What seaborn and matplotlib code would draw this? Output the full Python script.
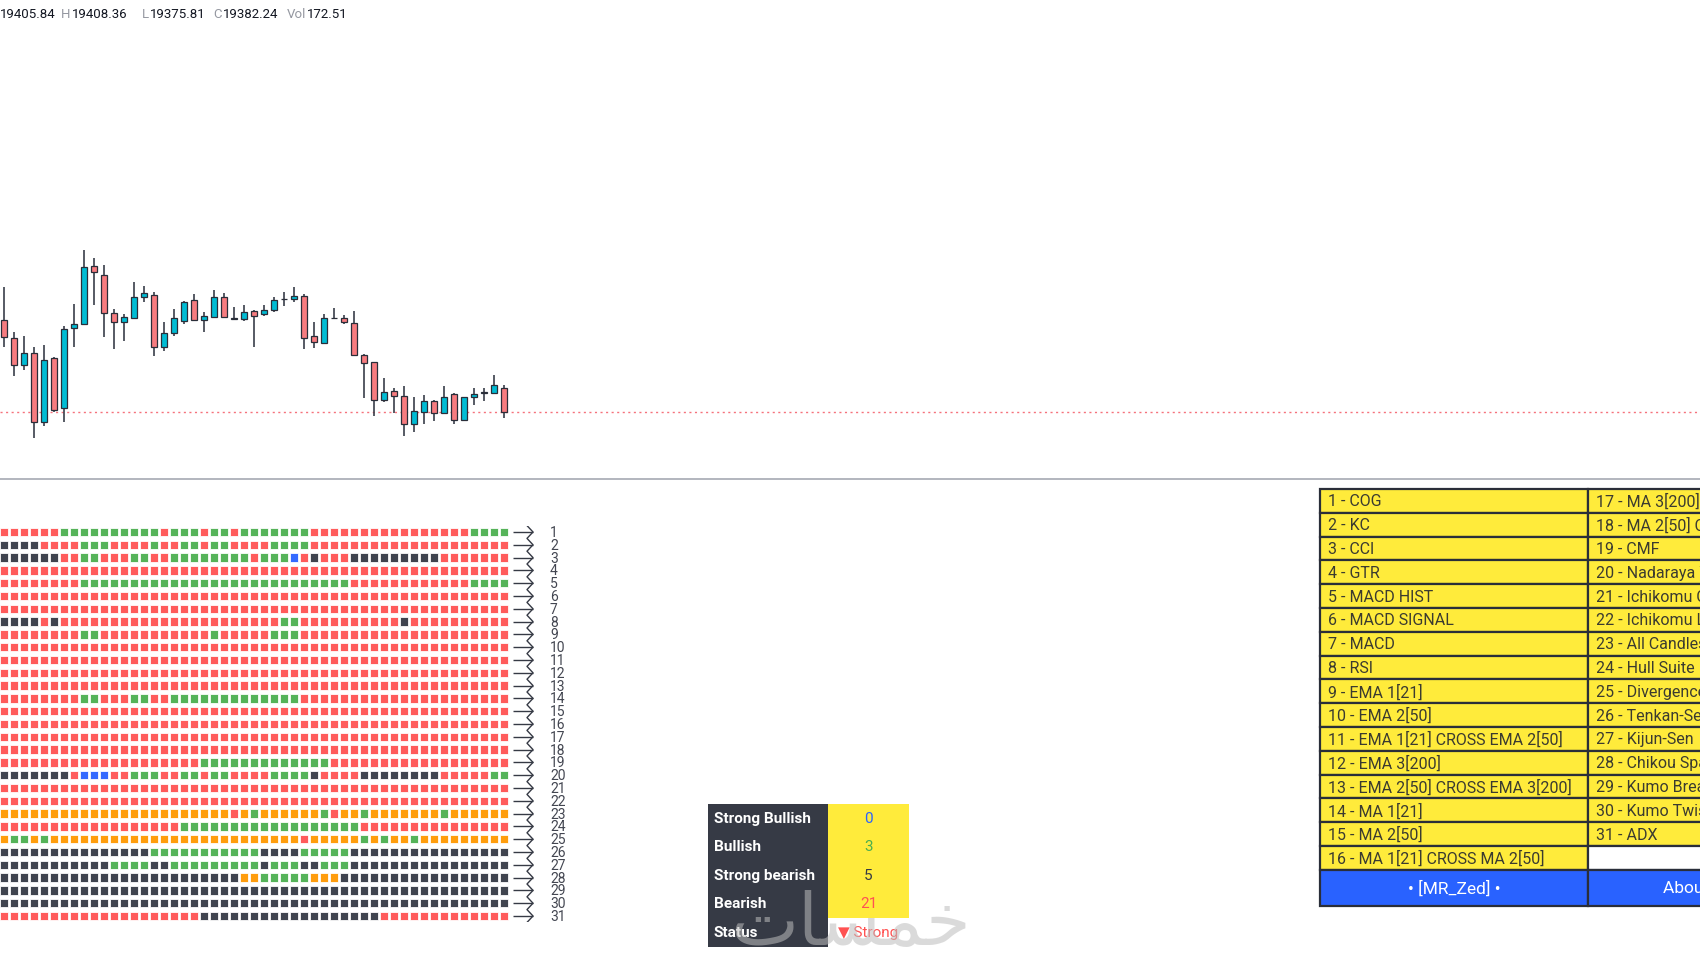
import matplotlib
matplotlib.use("Agg")
import matplotlib.pyplot as plt
from matplotlib.patches import Rectangle
import numpy as np
import pandas as pd
import seaborn as sns

# ---- data ----
opens = [19474.2, 19456.2, 19428.9, 19440.5, 19371.5, 19436.2, 19385.5, 19465.5, 19470.2, 19527.5,
         19519.2, 19481.2, 19471.5, 19476.2, 19496.5, 19499.2, 19446.5, 19460.5, 19472.5, 19493.5,
         19473.9, 19476.5, 19496.5, 19475.2, 19474.9, 19482.5, 19479.5, 19483.5, 19494.5, 19495.2,
         19498.2, 19457.5, 19451.2, 19475.5, 19475.9, 19470.5, 19438.5, 19431.5, 19393.9, 19402.5,
         19398.2, 19370.2, 19382.2, 19393.2, 19380.5, 19399.5, 19373.5, 19396.5, 19400.5, 19401.2, 19405.84]
highs = [19506.5, 19462.2, 19457.5, 19446.5, 19449.2, 19437.0, 19467.5, 19489.5, 19544.2, 19535.9,
         19529.2, 19484.9, 19479.9, 19511.5, 19507.5, 19501.5, 19471.9, 19484.9, 19493.2, 19499.5,
         19481.5, 19504.2, 19500.9, 19486.5, 19488.9, 19483.9, 19488.5, 19496.9, 19502.2, 19506.5,
         19499.5, 19471.9, 19479.9, 19486.2, 19478.9, 19482.9, 19439.5, 19432.2, 19415.9, 19406.2,
         19407.5, 19396.5, 19399.2, 19394.2, 19407.5, 19400.9, 19397.2, 19405.9, 19406.2, 19418.5, 19408.36]
lows = [19446.5, 19417.5, 19423.5, 19355.5, 19367.5, 19382.2, 19371.5, 19446.5, 19469.5, 19488.9,
        19456.9, 19444.9, 19453.2, 19476.0, 19492.2, 19437.5, 19443.2, 19458.2, 19469.9, 19473.9,
        19461.5, 19476.0, 19475.5, 19474.9, 19472.5, 19446.5, 19477.5, 19482.2, 19488.2, 19491.5,
        19444.9, 19446.2, 19451.0, 19474.9, 19470.2, 19437.5, 19395.9, 19378.2, 19392.2, 19380.5,
        19358.2, 19361.5, 19370.2, 19373.2, 19379.5, 19369.9, 19373.2, 19389.2, 19392.5, 19401.0, 19375.81]
closes = [19457.2, 19428.9, 19440.5, 19371.5, 19433.5, 19384.2, 19464.9, 19469.5, 19526.5, 19521.5,
          19480.9, 19471.5, 19476.5, 19496.5, 19500.5, 19446.5, 19460.9, 19475.5, 19492.2, 19473.9,
          19477.5, 19496.5, 19476.5, 19475.9, 19481.5, 19477.5, 19483.9, 19494.2, 19495.2, 19498.2,
          19455.9, 19451.5, 19475.5, 19476.2, 19471.5, 19438.9, 19430.9, 19393.9, 19401.5, 19397.5,
          19370.2, 19382.5, 19393.2, 19380.9, 19396.5, 19373.5, 19396.5, 19400.2, 19401.5, 19408.9, 19382.24]

header_tags = ["O", "H", "L", "C", "Vol"]
header_vals = ["19405.84", "19408.36", "19375.81", "19382.24", "172.51"]

# signal grid, one run-length string per indicator row (R red, G green, D dark, O orange, B blue)
signal_runs = [
    "R6 G10 R1 G3 R1 G2 R1 G7 R16 G4",
    "D4 R4 G3 R4 G1 R2 G2 R1 G2 R4 G4 R20",
    "D6 R2 G2 R3 G2 R2 G8 R1 G3 B1 R1 D1 R3 D9 R7",
    "R51",
    "R8 G27 R12 G4",
    "R51",
    "R51",
    "D4 R1 D1 R22 G2 R10 D1 R10",
    "R8 G2 R11 G1 R5 G3 R21",
    "R51",
    "R51",
    "R51",
    "R51",
    "R8 G2 R3 G2 R2 G13 R21",
    "R51",
    "R51",
    "R51",
    "R51",
    "R20 G13 R18",
    "D7 R1 B3 R2 G3 R2 G2 R1 G2 R4 G4 D1 R4 D8 R5 G2",
    "R51",
    "R51",
    "O23 R1 O1 G1 O6 G1 R1 O2 G1 O7 G1 O6",
    "R18 G18 R15",
    "O1 G2 O1 G1 O25 R1 O5 G1 O1 G1 O2 G1 O9",
    "D15 G11 D4 G5 D16",
    "D11 G4 D2 G9 D1 G3 D2 G3 D16",
    "D24 O2 G5 O3 D17",
    "D51",
    "D51",
    "R20 D18 R13",
]

names_col1 = ["1 - COG", "2 - KC", "3 - CCI", "4 - GTR", "5 - MACD HIST", "6 - MACD SIGNAL",
              "7 - MACD", "8 - RSI", "9 - EMA 1[21]", "10 - EMA 2[50]",
              "11 - EMA 1[21] CROSS EMA 2[50]", "12 - EMA 3[200]",
              "13 - EMA 2[50] CROSS EMA 3[200]", "14 - MA 1[21]", "15 - MA 2[50]",
              "16 - MA 1[21] CROSS MA 2[50]"]
names_col2 = ["17 - MA 3[200]", "18 - MA 2[50] CROSS MA 3[200]", "19 - CMF",
              "20 - Nadaraya Watson", "21 - Ichikomu Cloud", "22 - Ichikomu Lines",
              "23 - All Candles", "24 - Hull Suite", "25 - Divergence", "26 - Tenkan-Sen",
              "27 - Kijun-Sen", "28 - Chikou Span", "29 - Kumo Breakout", "30 - Kumo Twist",
              "31 - ADX", ""]
footer = ["\u2022 [MR_Zed] \u2022", "About Indicator"]

summary_labels = ["Strong Bullish", "Bullish", "Strong bearish", "Bearish", "Status"]
summary_values = ["0", "3", "5", "21", "\u25bc Strong"]
summary_colors = ["#2962FF", "#4CAF50", "#363A45", "#FF5252", "#FF5252"]

state_colors = {"R": "#FF5252", "G": "#4CAF50", "D": "#363A45", "O": "#FF9800", "B": "#2962FF"}

# ---- build grid table ----
recs = []
for r, runs in enumerate(signal_runs, start=1):
    col = 0
    for tok in runs.split():
        for _ in range(int(tok[1:])):
            recs.append((col, r, tok[0]))
            col += 1
grid = pd.DataFrame(recs, columns=["col", "row", "state"])

sns.set_theme(style="white")
plt.rcParams["font.family"] = ["Roboto", "DejaVu Sans"]

W, H = 1700, 970
fig = plt.figure(figsize=(17, 9.7), dpi=100)

# ---- candles ----
ax = fig.add_axes([0, 1 - 478 / H, 1, 478 / H])
x = np.arange(len(opens))
o = np.array(opens); c = np.array(closes)
up = c >= o
body_col = np.where(up, "#00BCD4", "#F77C80")
ax.vlines(x, lows, highs, color="#3a3e4a", lw=1.2, zorder=1)
ax.bar(x, np.maximum(np.abs(c - o), 0.8), bottom=np.minimum(o, c), width=0.55,
       color=body_col, edgecolor="#2A2E39", linewidth=0.9, zorder=2)
ax.axhline(closes[-1], color="#F23645", lw=1, ls=(0, (1.5, 2.5)), alpha=0.7, zorder=0)
ax.set_xlim(-0.41, 169.59)
ax.set_ylim(19316.8, 19794.9)
ax.axis("off")

# ---- overlay in pixel coords for header, separator and tables ----
ov = fig.add_axes([0, 0, 1, 1])
ov.set_xlim(0, W)
ov.set_ylim(H, 0)
ov.axis("off")

renderer = fig.canvas.get_renderer()
tag_x = [None, 61, 142, 213, 287]
for t, v, tx in zip(header_tags, header_vals, tag_x):
    if tx is None:
        ov.text(-1, 14, t, color="#9598A1", fontsize=9.5, va="center", ha="right")
        ov.text(0, 14, v, color="#131722", fontsize=9.5, va="center", ha="left")
        continue
    tt = ov.text(tx, 14, t, color="#9598A1", fontsize=9.5, va="center", ha="left")
    right = tt.get_window_extent(renderer).x1
    ov.text(right + 1, 14, v, color="#131722", fontsize=9.5, va="center", ha="left")

ov.plot([0, W], [479.5, 479.5], color="#B2B5BE", lw=1.4)

# summary table
ov.add_patch(Rectangle((708, 805), 120, 143, facecolor="#363A45", edgecolor="none"))
ov.add_patch(Rectangle((828, 805), 81, 114, facecolor="#FFEB3B", edgecolor="none"))
for i, (lab, val, col) in enumerate(zip(summary_labels, summary_values, summary_colors)):
    yc = 819 + 28.5 * i
    ov.text(714, yc, lab, color="white", fontsize=11, fontweight="bold", va="center", ha="left")
    ov.text(868.5, yc, val, color=col, fontsize=11, va="center", ha="center")

# indicator name table
top, rh = 490, 23.8
for i in range(16):
    y0 = top + rh * i
    ov.add_patch(Rectangle((1320, y0), 268, rh, facecolor="#FFEB3B", edgecolor="#2A2E39", lw=1.6))
    ov.add_patch(Rectangle((1588, y0), 268, rh,
                           facecolor="#FFEB3B" if names_col2[i] else "white",
                           edgecolor="#2A2E39", lw=1.6))
    ov.text(1328, y0 + rh / 2, names_col1[i], color="#3B3B30", fontsize=11.5, va="center")
    ov.text(1596, y0 + rh / 2, names_col2[i], color="#3B3B30", fontsize=11.5, va="center")
fy = top + rh * 16
ov.add_patch(Rectangle((1320, fy), 268, 36, facecolor="#2962FF", edgecolor="#2A2E39", lw=1.6))
ov.add_patch(Rectangle((1588, fy), 268, 36, facecolor="#2962FF", edgecolor="#2A2E39", lw=1.6))
ov.text(1454, fy + 18, footer[0], color="white", fontsize=12.5, va="center", ha="center")
ov.text(1722, fy + 18, footer[1], color="white", fontsize=12.5, va="center", ha="center")

# watermark
ov.text(851, 926, "\ufe95\ufe8e\ufeb4\ufee4\ufea7", color="#bdbdbd", alpha=0.55, fontsize=52,
        family="DejaVu Sans", va="center", ha="center")

# ---- signal grid ----
gx0, gx1 = 0, 560
gy0, gy1 = 526.6, 923.4
axg = fig.add_axes([gx0 / W, 1 - gy1 / H, (gx1 - gx0) / W, (gy1 - gy0) / H])
sns.scatterplot(data=grid, x="col", y="row", hue="state", palette=state_colors, marker="s",
                s=38, linewidth=0.6, edgecolor=(1, 1, 1, 0.55), alpha=0.95, legend=False, ax=axg)
rows = np.arange(1, len(signal_runs) + 1)
axg.hlines(rows, 50.9, 52.9, color="#363A45", lw=1)
zz_x, zz_y = [52.3], [0.5]
for r in rows:
    zz_x += [52.9, 52.3]
    zz_y += [r, r + 0.5]
axg.plot(zz_x, zz_y, color="#363A45", lw=1)
for r in rows:
    axg.text(54.6, r, str(r), color="#434651", fontsize=10, va="center", ha="left")
axg.set_xlim(-0.4, 55.6)
axg.set_ylim(31.5, 0.5)
axg.axis("off")

fig.savefig("out.png", dpi=100)
